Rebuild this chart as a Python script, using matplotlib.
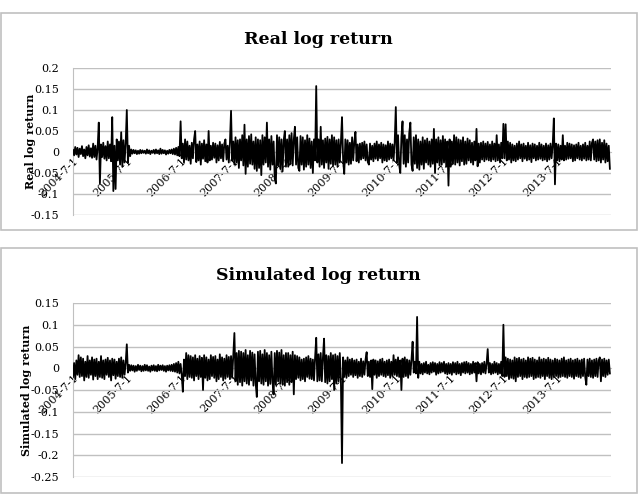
import numpy as np
import matplotlib
matplotlib.use("Agg")
import matplotlib.pyplot as plt
from matplotlib.patches import Rectangle

plt.rcParams.update({"font.family": "DejaVu Serif", "font.size": 8})

# log returns x1000, 48 samples per year, starting 2004-7-1 (two rows per year)
real_milli = [
    5, -8, 12, -6, 10, -12, 8, -5, 14, -10, 6, -15, 12, -8, 16, -11, 9, -14, 20, -12, 15, -18, 10, 70,
    -75, 18, -12, 22, -16, 14, -20, 25, -15, 18, -22, 83, -93, 15, -88, 30, -20, 25, -30, 47, -35, 28, -25, 20,
    100, -25, 15, -10, 6, -4, 5, -3, 4, -5, 3, -4, 5, -3, 4, -2, 3, -4, 6, -3, 4, -5, 3, -2,
    5, -4, 6, -3, 4, -5, 8, -4, 5, -3, 4, -6, 3, -4, 5, -3, 6, -5, 8, -6, 10, -8, 12, -10,
    73, -15, 20, -25, 30, -18, 25, -20, 15, -28, 22, -15, 30, 50, -24, 18, -20, 25, -30, 20, -16, 28, -22, 18,
    -25, 50, -20, 15, -18, 22, -14, 20, -25, 16, -20, 24, -15, 18, -22, 20, 30, -18, 15, -25, 22, 98, -20, 25,
    -30, 35, -25, 28, -38, 30, -20, 40, -32, 65, -52, 30, -35, 38, -28, 42, -30, 25, -40, 35, -45, 30, -38, 28,
    -55, 40, -30, 35, -25, 70, -35, 30, -42, 38, -30, 25, -64, -75, 40, -32, 35, -40, 30, -46, 28, 50, -35, 30,
    -35, 40, -28, 45, -32, 30, 60, -30, 35, -38, -45, 38, -30, 35, -42, 28, -35, 40, -30, 32, -38, 25, -50, 30,
    -20, 157, -25, 30, -35, 60, -30, 28, -38, 32, -25, 36, -40, 30, -28, 40, -32, 35, -30, 28, -35, 30, -25, 22,
    83, -20, -52, 30, -25, 28, -30, 22, -28, 35, -20, 25, 48, -22, 18, -25, 20, -18, 22, -15, 25, -20, 18, -24,
    -30, 20, -18, 15, -22, 20, -16, 25, -20, 18, -15, 22, -25, 18, -20, 16, -22, 25, -18, 20, -15, 18, -20, 22,
    107, -25, 40, -30, -50, 35, 73, -28, 40, -35, 30, -25, 45, 70, -30, -45, 35, -28, 40, -38, 30, -42, 25, -30,
    35, -40, 28, -25, 32, -30, 25, -35, 30, -28, 55, -50, 30, -25, 35, -32, 28, -30, 38, -25, 30, -35, 25, -80,
    30, -35, 25, -28, 40, -30, 35, -25, 30, -32, 28, -22, 35, -30, 25, -28, 32, -20, 28, -25, 22, -30, 25, -20,
    55, -34, 20, -25, 22, -18, 25, -22, 20, -18, 24, -20, 18, -22, 25, -18, 20, -22, 40, -20, 18, -25, 22, -15,
    67, -15, 66, -20, 25, -18, 22, -25, 18, -20, 15, -22, 20, -18, 25, -15, 18, -22, 20, -16, 15, -20, 22, -18,
    16, -24, 20, -15, 18, -20, 15, -18, 22, -16, 18, -20, 15, -18, 20, -22, 16, -18, 20, -15, 18, 80, -77, 20,
    -20, 18, -22, 15, -18, 40, -20, 15, -18, 22, -16, 20, -15, 18, -22, 16, -20, 18, -15, 22, -18, 15, -20, 18,
    -16, 22, -20, 15, -18, 25, -20, 22, 30, -18, 25, -22, 28, -20, 30, -25, 22, -18, 28, -25, 20, -22, 15, -40,
]

sim_milli = [
    -20, 12, -25, 18, -15, 30, -20, 25, -18, 22, -28, 15, -20, 28, -22, 18, -15, 25, -26, 20, -18, 22, -25, 15,
    -20, 28, -22, 18, -25, 20, -15, 24, -20, 18, -28, 22, -16, 20, -24, 15, -18, 22, -20, 25, -22, 18, -15, 12,
    55, -10, 8, -6, 7, -5, 6, -8, 5, -6, 8, -4, 6, -7, 5, -6, 8, -5, 7, -6, 4, -8, 6, -5,
    7, -6, 5, -7, 8, -5, 6, -4, 7, -6, 5, -8, 6, -5, 7, -6, 8, -7, 10, -8, 12, -10, 15, -12,
    10, -15, -54, 20, -18, 35, -25, 30, -20, 28, -22, 25, -28, 30, -18, 22, -25, 28, -20, 24, -50, 30, -22, 25,
    -28, 20, -25, 30, -18, 26, -22, 28, -30, 20, -25, 32, -20, 25, -28, 22, -24, 30, -20, 26, -25, 28, -22, 30,
    81, -30, 35, -38, 40, -32, 38, -40, 35, -30, 42, -35, 30, -38, 40, -28, 36, -40, 32, -35, -66, 38, -30, 40,
    -35, 32, -38, 42, -30, 35, -40, 30, -36, 38, -32, -60, 35, -38, 40, -30, 36, -35, 42, -38, 30, -40, 35, -32,
    35, -38, 30, -32, 38, -60, 30, -25, 28, -22, 25, -28, 20, -25, 22, -30, 25, -20, 28, -24, 22, -25, 20, -28,
    25, 70, -30, 32, -28, 35, -30, 25, 68, -32, 30, -35, 28, -30, 35, -25, 30, -50, 32, -35, 28, -30, 35, -25,
    -218, 25, -20, 18, -22, 25, -18, 20, -15, 22, -20, 18, -16, 20, -22, 15, -18, 22, -20, 16, -15, 20, 37, -18,
    15, -20, 18, -48, 20, -15, 18, -22, 16, -18, 20, -15, 22, -18, 15, -20, 18, -16, 20, -22, 15, -18, 30, -15,
    20, -18, 25, -20, 18, -50, 22, -20, 25, -18, 20, -22, 18, -15, 20, 61, -10, 15, -12, 118, -22, 15, -12, 10,
    -14, 12, -10, 15, -12, 8, -14, 12, -10, 14, -8, 12, -15, 10, -12, 14, -10, 12, -8, 15, -12, 10, -14, 12,
    -12, 10, -15, 14, -10, 12, -14, 15, -12, 10, -16, 12, -10, 14, -12, 15, -10, 12, -14, 10, -12, 15, -10, 12,
    -30, 14, -12, 10, -14, 12, -10, 15, -12, 10, 44, -10, 12, -14, 10, -12, 15, -10, 12, -14, 10, -12, 15, -18,
    100, -20, 25, -18, 22, -25, 20, -22, 18, -24, 25, -30, 22, -20, 24, -18, 20, -25, 22, -20, 18, -22, 25, -20,
    22, -18, 24, -25, 20, -22, 18, -20, 25, -22, 20, -18, 22, -25, 20, -18, 24, -22, 20, -25, 18, -20, 22, -18,
    20, -22, 18, -20, 22, -18, 25, -20, 18, -22, 20, -18, 22, -20, 18, -24, 20, -18, 22, -20, 18, -22, 20, -18,
    22, -20, -38, 20, -18, 22, -20, 18, -22, 20, -18, 22, -20, 18, 25, -30, 20, -18, 22, -20, 18, -15, 20, -12,
]

date_labels = ["2004-7-1", "2005-7-1", "2006-7-1", "2007-7-1", "2008-7-1",
               "2009-7-1", "2010-7-1", "2011-7-1", "2012-7-1", "2013-7-1"]
real_yticks = [0.2, 0.15, 0.1, 0.05, 0, -0.05, -0.1, -0.15]
sim_yticks = [0.15, 0.1, 0.05, 0, -0.05, -0.1, -0.15, -0.2, -0.25]

GRID = "#c0c0c0"
W, H = 639, 498
fig = plt.figure(figsize=(W / 100, H / 100), dpi=100)


def fx(px):
    return px / W


def fy(py):
    return 1 - py / H


def panel(box, area, values, yticks, title, ylabel, title_y, ylabel_x):
    # cadre gris autour du graphique (style Excel)
    x0, y0, x1, y1 = box
    fig.patches.append(Rectangle((fx(x0), fy(y1)), fx(x1 - x0), (y1 - y0) / H,
                                 transform=fig.transFigure, fill=False,
                                 edgecolor=GRID, lw=1.2))
    l, t, r, b = area
    ax = fig.add_axes([fx(l), fy(b), fx(r - l), (b - t) / H])
    v = np.asarray(values) / 1000.0
    x = np.arange(v.size) / 48.0
    ax.plot(x, v, color="black", lw=1.3, zorder=3)
    ax.set_xlim(0, 10)
    ax.set_ylim(min(yticks), max(yticks))
    ax.set_yticks(yticks)
    ax.set_yticklabels([f"{y:g}" for y in yticks])
    ax.yaxis.grid(True, color=GRID, lw=1.0)
    ax.set_axisbelow(True)
    for s in ("top", "right"):
        ax.spines[s].set_visible(False)
    ax.spines["left"].set_color(GRID)
    ax.spines["bottom"].set_position(("data", 0))
    ax.spines["bottom"].set_color(GRID)
    ax.set_xticks(np.arange(len(date_labels)))
    ax.set_xticklabels(date_labels, rotation=45, ha="right",
                       rotation_mode="anchor")
    ax.tick_params(axis="both", length=0, labelsize=8)
    ax.tick_params(axis="x", pad=3)
    ax.tick_params(axis="y", pad=10)
    fig.text(0.498, fy(title_y), title, ha="center", va="center",
             fontsize=12.5, fontweight="bold")
    fig.text(fx(ylabel_x), fy((t + b) / 2), ylabel, ha="center", va="center",
             rotation=90, fontsize=8, fontweight="bold")
    return ax


panel((1, 13, 637, 230), (73, 68, 611, 215), real_milli, real_yticks,
      "Real log return", "Real log return", 40, 30)
panel((1, 248, 637, 493), (73, 303, 611, 477), sim_milli, sim_yticks,
      "Simulated log return", "Simulated log return", 275, 27)

fig.savefig("out.png", dpi=100)
